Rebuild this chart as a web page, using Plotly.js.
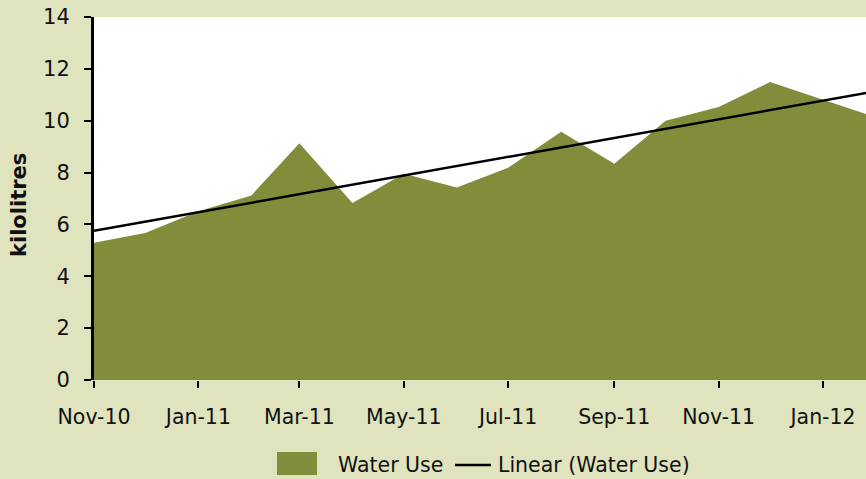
<!DOCTYPE html>
<html>
<head>
<meta charset="utf-8">
<script src="https://cdn.plot.ly/plotly-3.0.1.min.js"></script>
<style>
  html, body { margin: 0; padding: 0; background: #DFE4BE; }
  #chart { width: 866px; height: 479px; }
</style>
</head>
<body>
<div id="chart"></div>
<script>
// ---- Data ----
const months = ["2010-11-01","2010-12-01","2011-01-01","2011-02-01","2011-03-01","2011-04-01",
                "2011-05-01","2011-06-01","2011-07-01","2011-08-01","2011-09-01","2011-10-01",
                "2011-11-01","2011-12-01","2012-01-01","2012-02-01"];
const waterUse = [5.29, 5.67, 6.51, 7.12, 9.13, 6.83, 7.95, 7.42, 8.19, 9.57, 8.34, 10.0,
                  10.53, 11.49, 10.81, 10.13];
const tickDates = ["2010-11-01","2011-01-01","2011-03-01","2011-05-01","2011-07-01","2011-09-01","2011-11-01","2012-01-01"];
const tickLabels = ["Nov-10","Jan-11","Mar-11","May-11","Jul-11","Sep-11","Nov-11","Jan-12"];
const yTicks = [0, 2, 4, 6, 8, 10, 12, 14];
const seriesName = "Water Use";
const trendName = "Linear (Water Use)";
const yTitle = "kilolitres";

// ---- Linear trend (least squares on day numbers, like Excel) ----
const dayNum = months.map(d => Date.parse(d) / 86400000);
const n = dayNum.length;
const mx = dayNum.reduce((a, b) => a + b, 0) / n;
const my = waterUse.reduce((a, b) => a + b, 0) / n;
let sxy = 0, sxx = 0;
for (let i = 0; i < n; i++) { sxy += (dayNum[i] - mx) * (waterUse[i] - my); sxx += (dayNum[i] - mx) ** 2; }
const slope = sxy / sxx;
const icpt = my - slope * mx;
const trendX = [months[0], months[n - 1]];
const trendY = [icpt + slope * dayNum[0], icpt + slope * dayNum[n - 1]];

// ---- Layout geometry ----
const W = 866, H = 479;
const L = 94, R = 0, T = 17, B = 99;
const pw = W - L - R, ph = H - T - B;
const px = x => (x - L) / pw;
const py = y => (H - B - y) / ph;

const FONT = "DejaVu Sans, Verdana, sans-serif";
const GREEN = "#838C3A";
const TXT = "#111111";

const traces = [
  {
    x: months, y: waterUse, type: "scatter", mode: "lines",
    fill: "tozeroy", fillcolor: GREEN,
    line: { color: GREEN, width: 0 },
    name: seriesName, showlegend: false, hoverinfo: "x+y"
  },
  {
    x: trendX, y: trendY, type: "scatter", mode: "lines",
    line: { color: "#000000", width: 2.5 },
    name: trendName, showlegend: false
  }
];

const layout = {
  width: W, height: H,
  margin: { l: L, r: R, t: T, b: B, pad: 0 },
  paper_bgcolor: "#DFE4BE",
  plot_bgcolor: "#FFFFFF",
  font: { family: FONT, size: 20, color: TXT },
  showlegend: false,
  xaxis: {
    type: "date",
    range: ["2010-11-01", "2012-01-26 02:00"],
    tickvals: tickDates, ticktext: tickLabels,
    ticks: "outside", ticklen: 7, tickwidth: 2, tickcolor: "#000000",
    showline: false, showgrid: false, zeroline: false,
    tickfont: { family: FONT, size: 20.5, color: TXT },
    ticklabelstandoff: 11
  },
  yaxis: {
    range: [0, 14], tickvals: yTicks,
    ticks: "outside", ticklen: 7, tickwidth: 2, tickcolor: "#000000",
    showline: true, linewidth: 3, linecolor: "#000000",
    showgrid: false, zeroline: false,
    tickfont: { family: FONT, size: 21, color: TXT },
    ticklabelstandoff: 10
  },
  shapes: [
    { type: "rect", xref: "paper", yref: "paper",
      x0: px(277), x1: px(317), y0: py(475), y1: py(452),
      fillcolor: GREEN, line: { width: 0 } },
    { type: "line", xref: "paper", yref: "paper",
      x0: px(455), x1: px(491), y0: py(465), y1: py(465),
      line: { color: "#000000", width: 2.5 } }
  ],
  annotations: [
    { xref: "paper", yref: "paper", x: px(18.5), y: py(205.5), xanchor: "center", yanchor: "middle",
      textangle: -90, text: "<b>" + yTitle + "</b>", showarrow: false,
      font: { family: FONT, size: 21, color: TXT } },
    { xref: "paper", yref: "paper", x: px(336), y: py(465), xanchor: "left", yanchor: "middle",
      text: seriesName, showarrow: false, font: { family: FONT, size: 20.5, color: TXT } },
    { xref: "paper", yref: "paper", x: px(496), y: py(465), xanchor: "left", yanchor: "middle",
      text: trendName, showarrow: false, font: { family: FONT, size: 20.5, color: TXT } }
  ]
};

Plotly.newPlot("chart", traces, layout, { displayModeBar: false, staticPlot: true });
</script>
</body>
</html>
